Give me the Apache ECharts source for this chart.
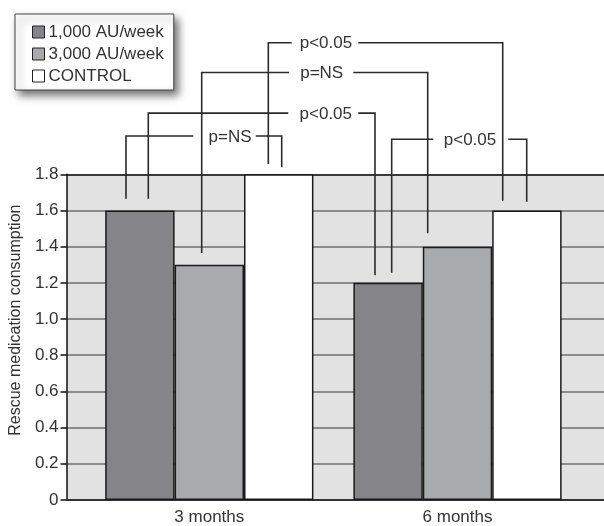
<!DOCTYPE html>
<html>
<head>
<meta charset="utf-8">
<script src="https://cdn.jsdelivr.net/npm/echarts@6/dist/echarts.min.js"></script>
<style>html,body{margin:0;padding:0;background:#fff;}#c{width:604px;height:526px;}</style>
</head>
<body>
<div id="c"></div>
<script>
// ---- data ----
const categories = ['3 months', '6 months'];
const seriesNames = ['1,000 AU/week', '3,000 AU/week', 'CONTROL'];
const dose1000 = [1.6, 1.2];
const dose3000 = [1.3, 1.4];
const control = [1.8, 1.6];
const yMin = 0, yMax = 1.8, yStep = 0.2;
const yAxisTitle = 'Rescue medication consumption';
// significance brackets: label, [series, category] pairs, level (in y units)
const bracketLabels = ['p=NS', 'p<0.05', 'p=NS', 'p<0.05', 'p<0.05'];
const bracketPairs = [[[0,0],[2,0]], [[0,0],[0,1]], [[1,0],[1,1]], [[2,0],[2,1]], [[0,1],[2,1]]];
const bracketLevels = [2.012, 2.138, 2.363, 2.527, 1.994];

const seriesData = [dose1000, dose3000, control];
const colors = ['#858589', '#a9aaad', '#ffffff'];
const FONT = '"Liberation Sans", Arial, Helvetica, sans-serif';
const TXT = '#333333';
const CAT_GAP = 0.161;

const chart = echarts.init(document.getElementById('c'), null, {renderer: 'canvas'});

const option = {
  animation: false,
  backgroundColor: '#ffffff',
  textStyle: {fontFamily: FONT},
  legend: {
    orient: 'vertical', left: 15, top: 14,
    padding: [8, 10, 4, 17],
    itemWidth: 12, itemHeight: 12, itemGap: 2,
    icon: 'rect',
    backgroundColor: '#ffffff', borderColor: '#444', borderWidth: 1,
    shadowColor: 'rgba(0,0,0,0.55)', shadowBlur: 8, shadowOffsetX: 4, shadowOffsetY: 5,
    itemStyle: {borderColor: '#222', borderWidth: 1},
    textStyle: {fontSize: 17, color: TXT, fontFamily: FONT, lineHeight: 20, padding: [0, 0, 0, -1]},
    data: seriesNames
  },
  grid: [
    {left: 62, right: 0, top: 174.3, bottom: 26, show: true, backgroundColor: '#e2e2e3', borderWidth: 0},
    {left: 85.2, right: 22.4, top: 174.3, bottom: 26, show: false}
  ],
  xAxis: [
    {gridIndex: 0, type: 'value', min: 0, max: 1, show: true,
     axisLine: {show: true, lineStyle: {color: '#333', width: 1.5}},
     axisTick: {show: false}, axisLabel: {show: false}, splitLine: {show: false}},
    {gridIndex: 1, type: 'category', data: categories,
     axisLine: {show: false}, axisTick: {show: false},
     axisLabel: {fontSize: 17, color: TXT, margin: 9, fontFamily: FONT}}
  ],
  yAxis: [
    {gridIndex: 0, type: 'value', min: yMin, max: yMax, interval: yStep,
     name: yAxisTitle, nameLocation: 'middle', nameGap: 38,
     nameTextStyle: {fontSize: 16, color: TXT, fontFamily: FONT, padding: [0, 0, 0, 34]},
     axisLine: {show: true, lineStyle: {color: '#111', width: 1.5}},
     axisTick: {show: true, inside: false, length: 6, lineStyle: {color: '#111', width: 1.5}},
     axisLabel: {fontSize: 17, color: TXT, margin: 8, fontFamily: FONT,
       formatter: v => (v === 0 ? '0' : v.toFixed(1))},
     splitLine: {show: true, lineStyle: {width: 2,
       color: ['#333', '#8c8c8c', '#8c8c8c', '#8c8c8c', '#8c8c8c', '#8c8c8c', '#8c8c8c', '#8c8c8c', '#8c8c8c', '#3a3a3a']}}},
    {gridIndex: 1, type: 'value', min: yMin, max: yMax, interval: yStep, show: false, splitLine: {show: false}}
  ],
  series: seriesNames.map((n, i) => ({
    name: n, type: 'bar', xAxisIndex: 1, yAxisIndex: 1,
    data: seriesData[i], barGap: 0, barCategoryGap: (CAT_GAP * 100) + '%',
    itemStyle: {color: colors[i], borderColor: '#1a1a1a', borderWidth: 1.5},
    z: 3
  }))
};
chart.setOption(option);

// ---- bracket annotation layout (pixel tweaks relative to library-computed bar positions) ----
const bracketLayout = [
  {dx: [-13.9, 3.0],  gap: [11.7, 7.0],  tf: 0.668, br: [-36.7, 25.7]},
  {dx: [8.4, -13.1],  gap: [11.7, 7.6],  tf: 0.783, br: [-37.5, 32.5]},
  {dx: [-7.6, -29.8], gap: [11.7, 13.4], tf: 0.531, br: [-32.7, 31.6]},
  {dx: [-10.4, -24.2], gap: [10.3, 9.7], tf: 0.246, br: [-34.3, 32.3]},
  {dx: [3.6, -0.2],   gap: [10.0, 8.7],  tf: 0.580, br: [-36.7, 38.3]}
];

function drawBrackets() {
  const c0 = chart.convertToPixel({xAxisIndex: 1}, categories[0]);
  const c1 = chart.convertToPixel({xAxisIndex: 1}, categories[1]);
  const band = c1 - c0;
  const barW = band * (1 - CAT_GAP) / seriesNames.length;
  const barCenter = (s, c) => chart.convertToPixel({xAxisIndex: 1}, categories[c]) + (s - (seriesNames.length - 1) / 2) * barW;
  const yPix = v => chart.convertToPixel({yAxisIndex: 1}, v);
  const els = [];
  const ls = {stroke: '#2b2b2b', lineWidth: 1.6, fill: null};
  bracketPairs.forEach((pair, i) => {
    const L = bracketLayout[i];
    const [a, b] = pair;
    const xa = barCenter(a[0], a[1]) + L.dx[0];
    const xb = barCenter(b[0], b[1]) + L.dx[1];
    const ya = yPix(seriesData[a[0]][a[1]]) - L.gap[0];
    const yb = yPix(seriesData[b[0]][b[1]]) - L.gap[1];
    const yl = yPix(bracketLevels[i]);
    const tx = xa + (xb - xa) * L.tf;
    els.push({type: 'polyline', shape: {points: [[xa, ya], [xa, yl], [tx + L.br[0], yl]]}, style: ls, z: 10});
    els.push({type: 'polyline', shape: {points: [[tx + L.br[1], yl], [xb, yl], [xb, yb]]}, style: ls, z: 10});
    els.push({type: 'text', x: tx, y: yl + 1, style: {text: bracketLabels[i], fill: TXT,
      font: '17px ' + FONT, textAlign: 'center', textVerticalAlign: 'middle'}, z: 10});
  });
  chart.setOption({graphic: {elements: els}});
}
drawBrackets();
</script>
</body>
</html>
